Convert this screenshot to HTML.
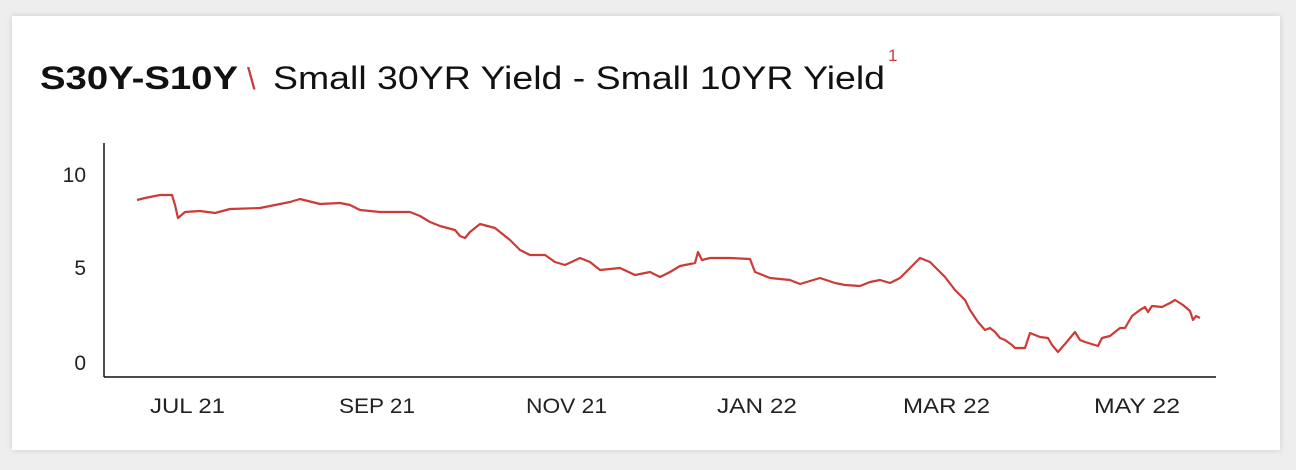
<!DOCTYPE html>
<html><head><meta charset="utf-8"><style>
html,body{margin:0;padding:0;width:1296px;height:470px;background:#eeeeee;overflow:hidden}
.card{position:absolute;left:12px;top:16px;width:1268px;height:434px;background:#fff;box-shadow:0 0 6px rgba(0,0,0,0.15)}
svg{position:absolute;left:0;top:0}
text{font-family:"Liberation Sans",sans-serif}
</style></head><body>
<div class="card"></div>
<svg width="1296" height="470">
<text x="40" y="89" font-size="32" font-weight="bold" fill="#111" textLength="198" lengthAdjust="spacingAndGlyphs">S30Y-S10Y</text>
<text x="247" y="89" font-size="31" fill="#c8403a">\</text>
<text x="273" y="89" font-size="32" fill="#111" textLength="612" lengthAdjust="spacingAndGlyphs">Small 30YR Yield - Small 10YR Yield</text>
<text x="888" y="61" font-size="17" fill="#c8403a">1</text>
<line x1="104" y1="143" x2="104" y2="377" stroke="#111" stroke-width="1.5"/>
<line x1="104" y1="377" x2="1216" y2="377" stroke="#111" stroke-width="1.5"/>
<g font-size="21" fill="#222">
<text x="86" y="182" text-anchor="end">10</text>
<text x="86" y="275" text-anchor="end">5</text>
<text x="86" y="370" text-anchor="end">0</text>
<text x="150" y="413" textLength="75" lengthAdjust="spacingAndGlyphs">JUL 21</text>
<text x="339" y="413" textLength="76" lengthAdjust="spacingAndGlyphs">SEP 21</text>
<text x="526" y="413" textLength="81" lengthAdjust="spacingAndGlyphs">NOV 21</text>
<text x="717" y="413" textLength="80" lengthAdjust="spacingAndGlyphs">JAN 22</text>
<text x="903" y="413" textLength="87" lengthAdjust="spacingAndGlyphs">MAR 22</text>
<text x="1094" y="413" textLength="86" lengthAdjust="spacingAndGlyphs">MAY 22</text>
</g>
<polyline fill="none" stroke="#cc3b35" stroke-width="2.2" stroke-linejoin="round" points="137,200 145,198 160,195 172,195 175,205 178,218 185,212 200,211 215,213 230,209 260,208 275,205 290,202 300,199 320,204 340,203 350,205 360,210 380,212 410,212 420,216 430,222 440,226 455,230 460,236 465,238 470,232 480,224 495,228 510,240 520,250 530,255 545,255 555,262 565,265 580,258 590,262 600,270 620,268 635,275 650,272 660,277 670,272 680,266 695,263 698,252 702,260 710,258 730,258 750,259 755,272 770,278 790,280 800,284 820,278 835,283 845,285 860,286 870,282 880,280 890,283 900,278 910,268 920,258 930,262 940,272 945,277 955,290 965,300 970,310 978,322 985,330 990,328 995,332 1000,338 1005,340 1012,345 1015,348 1025,348 1030,333 1040,337 1048,338 1052,345 1058,352 1065,344 1075,332 1080,340 1085,342 1098,346 1102,338 1110,336 1120,328 1125,328 1132,316 1140,310 1145,307 1148,312 1152,306 1162,307 1170,303 1175,300 1183,305 1190,311 1193,320 1196,316 1200,318"/>
</svg>
</body></html>
